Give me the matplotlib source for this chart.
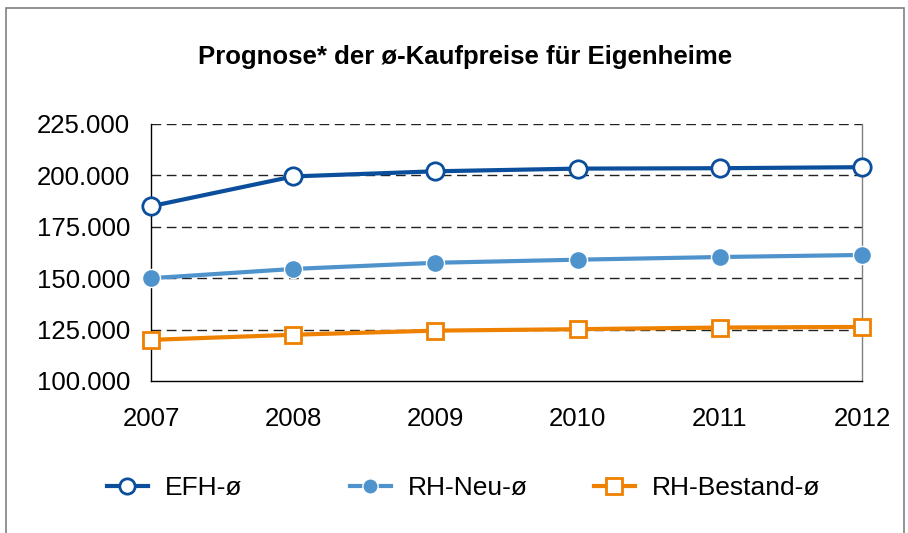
import matplotlib
matplotlib.use("Agg")
import matplotlib.pyplot as plt
from matplotlib.patches import Rectangle
from matplotlib.ticker import FuncFormatter

plt.rcParams['font.family'] = ['Liberation Sans', 'DejaVu Sans']

years = [2007, 2008, 2009, 2010, 2011, 2012]
efh = [185000, 199500, 202000, 203300, 203500, 204000]
rh_neu = [150000, 154500, 157500, 159000, 160300, 161300]
rh_bestand = [120000, 122500, 124500, 125200, 126000, 126300]

yticks = [100000, 125000, 150000, 175000, 200000, 225000]

fig = plt.figure(figsize=(9.08, 5.33), dpi=100)
ax = fig.add_axes([151/908, 1 - 381/533, (862-151)/908, (381-124)/533])

c_efh = '#0B4E9B'
c_neu = '#4E93CC'
c_best = '#EE8100'

l1, = ax.plot(years, efh, color=c_efh, lw=3, marker='o', ms=12.5, mfc='white',
              mec=c_efh, mew=2, label='EFH-ø', zorder=5, clip_on=False)
l2, = ax.plot(years, rh_neu, color=c_neu, lw=3, marker='o', ms=13, mfc=c_neu,
              mec='white', mew=1, label='RH-Neu-ø', zorder=5, clip_on=False)
l3, = ax.plot(years, rh_bestand, color=c_best, lw=3, marker='s', ms=12, mfc='white',
              mec=c_best, mew=2, label='RH-Bestand-ø', zorder=5, clip_on=False)

ax.set_xlim(2007, 2012)
ax.set_ylim(100000, 225000)
ax.set_xticks(years)
ax.set_yticks(yticks)
ax.yaxis.set_major_formatter(FuncFormatter(lambda v, p: f"{int(v):,}".replace(',', '.')))
ax.tick_params(axis='both', length=0, labelsize=18.5, colors='black')
ax.tick_params(axis='x', pad=19)
ax.tick_params(axis='y', pad=15)

for v in yticks[1:]:
    ax.axhline(v, color='#222222', lw=1, ls=(0, (7, 4)), zorder=1)

ax.spines['top'].set_visible(False)
ax.spines['right'].set_color('#808080')
ax.spines['left'].set_color('black')
ax.spines['bottom'].set_color('black')
for s in ax.spines.values():
    s.set_linewidth(1)

fig.text(465/908, 1 - 57/533, 'Prognose* der ø-Kaufpreise für Eigenheime',
         ha='center', va='center', fontsize=18.5, fontweight='bold')

# one legend entry per fixed-width slot along the bottom
for line, x0 in zip([l1, l2, l3], [107, 350, 594]):
    leg = fig.legend([line], [line.get_label()], loc='center left',
                     bbox_to_anchor=(x0/908, 1 - 488/533), frameon=False,
                     fontsize=19, handlelength=1.55, handletextpad=0.65,
                     borderpad=0, borderaxespad=0)
    for h in leg.legend_handles:
        h.set_markersize(11)

fig.add_artist(Rectangle((6/908, -0.05), (904-6)/908, 1 - 8/533 + 0.05,
                         transform=fig.transFigure, fill=False,
                         edgecolor='#808080', lw=1.2))

fig.savefig('out.png', dpi=100)
